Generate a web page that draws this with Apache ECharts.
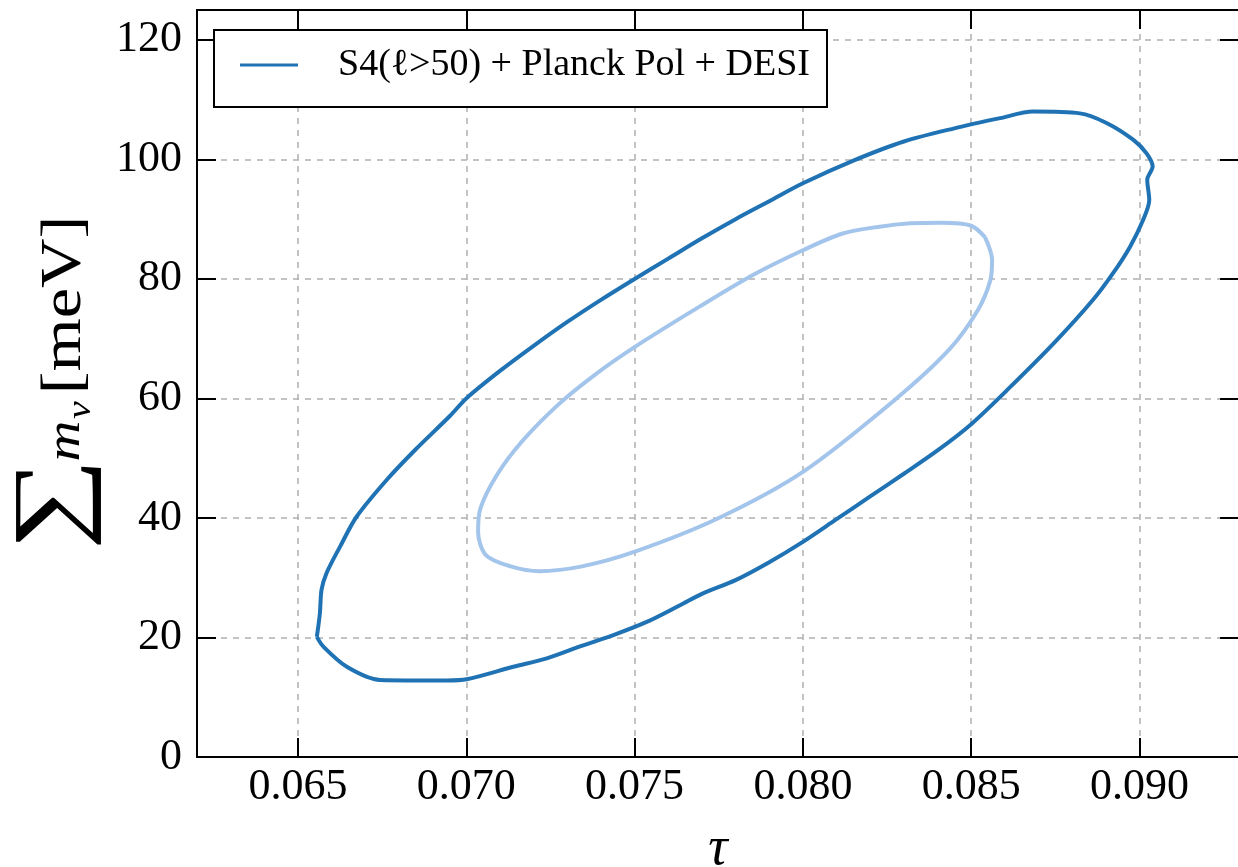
<!DOCTYPE html>
<html><head><meta charset="utf-8">
<script src="https://cdn.jsdelivr.net/npm/echarts@6/dist/echarts.min.js"></script>
<style>html,body{margin:0;padding:0;background:#fff}#c{width:1238px;height:867px}</style>
</head><body><div id="c"></div>
<script>
// ---- data ----
const xTickValues = [0.065, 0.070, 0.075, 0.080, 0.085, 0.090];
const yTickValues = [0, 20, 40, 60, 80, 100, 120];
const legendLabel = 'S4(\u2113>50) + Planck Pol + DESI';

// outer (2-sigma) contour: tau, sum m_nu [meV]
const outerTau = [0.06556, 0.06575, 0.06645, 0.06744, 0.06942, 0.07001, 0.07140, 0.07239, 0.07338, 0.07437, 0.07536, 0.07635, 0.07700, 0.07800, 0.07900, 0.08000, 0.08100, 0.08200, 0.08300, 0.08400, 0.08500, 0.08614, 0.08750, 0.08862, 0.08922, 0.08972, 0.09011, 0.09029, 0.09023, 0.09039, 0.09021, 0.08981, 0.08902, 0.08823, 0.08684, 0.08586, 0.08450, 0.08300, 0.08150, 0.08000, 0.07900, 0.07800, 0.07700, 0.07600, 0.07500, 0.07400, 0.07300, 0.07200, 0.07100, 0.07000, 0.06952, 0.06850, 0.06764, 0.06674, 0.06625, 0.06585, 0.06570, 0.06565, 0.06556];
const outerMnu = [20.1, 18.5, 15.1, 12.9, 12.8, 13.0, 15.1, 16.5, 18.5, 20.4, 22.6, 25.4, 27.3, 29.6, 32.6, 36.0, 39.8, 43.6, 47.4, 51.3, 55.7, 61.8, 69.5, 76.5, 81.0, 85.4, 89.9, 93.2, 96.6, 98.8, 101.0, 103.3, 106.1, 107.7, 108.0, 106.9, 105.2, 103.0, 99.8, 96.0, 93.0, 90.0, 86.8, 83.4, 80.0, 76.5, 72.8, 68.8, 64.6, 60.0, 57.1, 51.5, 46.4, 40.2, 35.2, 30.8, 28.0, 24.0, 20.1];

// inner (1-sigma) contour
const innerTau = [0.08541, 0.08500, 0.08414, 0.08320, 0.08223, 0.08118, 0.08000, 0.07853, 0.07694, 0.07503, 0.07376, 0.07270, 0.07164, 0.07090, 0.07042, 0.07035, 0.07058, 0.07132, 0.07217, 0.07344, 0.07503, 0.07747, 0.08000, 0.08276, 0.08435, 0.08520, 0.08557, 0.08562, 0.08541];
const innerMnu = [87.0, 88.9, 89.4, 89.3, 88.7, 87.6, 84.8, 80.7, 75.4, 68.7, 63.7, 58.8, 52.7, 47.1, 41.6, 37.7, 33.8, 31.9, 31.1, 31.9, 34.4, 39.9, 47.7, 59.9, 68.2, 74.8, 79.8, 83.2, 87.0];

// ---- chart ----
const SERIF = "'Liberation Serif','DejaVu Serif',serif";
const DARK = '#1f72b3';
const LIGHT = '#a3c5eb';
const X_STEP = xTickValues[1] - xTickValues[0];
const Y_STEP = yTickValues[1] - yTickValues[0];

function isTick(v, list) { return list.some(t => Math.abs(t - v) < 1e-7); }

const chart = echarts.init(document.getElementById('c'), null, {renderer: 'canvas'});
const tickStyle = {show: true, inside: true, length: 19, lineStyle: {color: '#000', width: 2}};
const lineStyle = {show: true, onZero: false, lineStyle: {color: '#000', width: 2}};
const xMin = 0.062, xMax = 0.092956, yMin = 0, yMax = 125;

function rotText(text, x, y, size, italic, extra) {
  return Object.assign({
    type: 'text', x: x, y: y, rotation: Math.PI / 2, silent: true,
    style: {text: text, fontFamily: SERIF, fontStyle: italic ? 'italic' : 'normal', fontSize: size, fill: '#000',
            align: 'center', verticalAlign: 'middle', textAlign: 'center', textVerticalAlign: 'middle'}
  }, extra || {});
}

chart.setOption({
  animation: false,
  backgroundColor: '#fff',
  grid: {left: 197, right: -1, top: 10, bottom: 110, containLabel: false, outerBoundsMode: 'none'},
  legend: {
    data: [legendLabel],
    left: 214, top: 30,
    icon: 'rect', itemWidth: 58, itemHeight: 3,
    padding: [15, 17, 22, 26],
    backgroundColor: '#fff', borderColor: '#000', borderWidth: 2, borderRadius: 0,
    textStyle: {fontFamily: SERIF, fontSize: 38, color: '#000', lineHeight: 40, padding: [0, 0, 0, 35]},
    selectedMode: false
  },
  xAxis: [{
    type: 'value', min: xMin, max: xMax, minInterval: X_STEP, maxInterval: X_STEP, splitNumber: 6,
    axisLine: lineStyle, axisTick: tickStyle,
    axisLabel: {margin: 8, fontFamily: SERIF, fontSize: 44, color: '#000',
      formatter: v => isTick(v, xTickValues) ? v.toFixed(3) : ''},
    splitLine: {show: true, lineStyle: {color: '#b0b0b0', width: 1.5, type: [6, 6]}},
    name: '\u03c4', nameLocation: 'middle', nameGap: 66,
    nameTextStyle: {fontFamily: SERIF, fontStyle: 'italic', fontSize: 54, color: '#000'}
  }, {
    type: 'value', position: 'top', min: xMin, max: xMax, minInterval: X_STEP, maxInterval: X_STEP, splitNumber: 6,
    axisLine: lineStyle, axisTick: tickStyle, axisLabel: {show: false}, splitLine: {show: false}
  }],
  yAxis: [{
    type: 'value', min: yMin, max: yMax, interval: Y_STEP,
    axisLine: lineStyle, axisTick: tickStyle,
    axisLabel: {margin: 15, fontFamily: SERIF, fontSize: 44, color: '#000',
      formatter: v => isTick(v, yTickValues) ? String(v) : ''},
    splitLine: {show: true, lineStyle: {color: '#b0b0b0', width: 1.5, type: [6, 6]}}
  }, {
    type: 'value', position: 'right', min: yMin, max: yMax, interval: Y_STEP,
    axisLine: lineStyle, axisTick: tickStyle, axisLabel: {show: false}, splitLine: {show: false}
  }],
  series: [{
    type: 'line', name: legendLabel, xAxisIndex: 0, yAxisIndex: 0,
    data: outerTau.map((t, i) => [t, outerMnu[i]]),
    showSymbol: false, symbol: 'none', smooth: 0.3, silent: true, z: 3,
    lineStyle: {color: DARK, width: 4}, itemStyle: {color: DARK}
  }, {
    type: 'line', name: 'inner', xAxisIndex: 0, yAxisIndex: 0,
    data: innerTau.map((t, i) => [t, innerMnu[i]]),
    showSymbol: false, symbol: 'none', smooth: 0.3, silent: true, z: 2,
    lineStyle: {color: LIGHT, width: 4}, itemStyle: {color: LIGHT}
  }],
  graphic: [
    rotText('\u2211', 54.5, 504, 130, false, {scaleX: 1.0, scaleY: 0.75}),
    rotText('m', 66, 441, 48, true, {scaleX: 1.18}),
    rotText('\u03bd', 81.5, 410, 34, true, {scaleX: 1.18}),
    rotText('[meV]', 65, 305, 58, false, {scaleX: 1.18})
  ]
});
</script>
</body></html>
